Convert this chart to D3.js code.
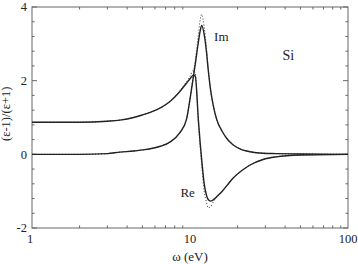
<!DOCTYPE html>
<html>
<head>
<meta charset="utf-8">
<script src="https://cdn.jsdelivr.net/npm/d3@7"></script>
<style>
html,body{margin:0;padding:0;background:#fff;}
svg{display:block;}
text{font-family:"Liberation Serif","Times New Roman",serif;fill:#222;}
</style>
</head>
<body>
<script>
// energies (eV)
const omega = [1, 2, 3, 3.6, 4.4, 5.0, 5.6, 6.5, 7.5, 8.6, 9.5, 10.0, 10.5, 10.8, 11.3, 11.6, 11.86, 12.3, 12.7, 13.0, 13.5, 14.0, 14.75, 16, 17.1, 18.7, 20.7, 22.8, 24, 29, 35, 50, 100];
// Re[(ε-1)/(ε+1)], solid
const reSolid = [0.87, 0.87, 0.9, 0.93, 1.0, 1.07, 1.14, 1.26, 1.44, 1.7, 1.93, 2.05, 2.15, 2.12, 0.93, 0.3, -0.15, -0.8, -1.1, -1.22, -1.27, -1.24, -1.15, -1.0, -0.85, -0.65, -0.48, -0.35, -0.29, -0.14, -0.07, -0.02, 0];
// Im[(ε-1)/(ε+1)], solid
const imSolid = [0.0, 0.0, 0.02, 0.06, 0.09, 0.12, 0.15, 0.22, 0.34, 0.58, 0.95, 1.5, 2.1, 2.45, 3.05, 3.35, 3.5, 3.25, 2.8, 2.35, 1.75, 1.35, 0.95, 0.62, 0.43, 0.26, 0.15, 0.09, 0.07, 0.03, 0.02, 0.01, 0];
// dotted model
const reDotted = [0.87, 0.87, 0.9, 0.93, 1.0, 1.07, 1.14, 1.26, 1.44, 1.72, 1.97, 2.12, 2.28, 2.2, 0.85, 0.2, -0.3, -1.0, -1.3, -1.45, -1.42, -1.3, -1.17, -1.0, -0.85, -0.65, -0.48, -0.35, -0.29, -0.14, -0.07, -0.02, 0];
const imDotted = [0.0, 0.0, 0.02, 0.06, 0.09, 0.12, 0.15, 0.22, 0.34, 0.58, 0.95, 1.5, 2.15, 2.55, 3.25, 3.65, 3.8, 3.45, 2.9, 2.4, 1.75, 1.35, 0.95, 0.62, 0.43, 0.26, 0.15, 0.09, 0.07, 0.03, 0.02, 0.01, 0];

const xTicks = [1, 10, 100];
const xTickLabels = ["1", "10", "100"];
const yTicks = [-2, 0, 2, 4];
const yTickLabels = ["-2", "0", "2", "4"];
const labels = [{t: "Im", w: 14.2, v: 3.2}, {t: "Re", w: 8.7, v: -1.04}, {t: "Si", w: 38.5, v: 2.7}];

const W = 358, H = 264;
const m = {l: 32, r: 10, t: 7, b: 36};
const svg = d3.select("body").append("svg").attr("width", W).attr("height", H);

const x = d3.scaleLog().domain([1, 100]).range([m.l, W - m.r]);
const y = d3.scaleLinear().domain([-2, 4]).range([H - m.b, m.t]);

const axisColor = "#666";
// frame
svg.append("rect").attr("x", x(1)).attr("y", y(4)).attr("width", x(100) - x(1)).attr("height", y(-2) - y(4))
  .attr("fill", "none").attr("stroke", axisColor).attr("stroke-width", 1);

// minor ticks
const xMinor = [];
for (let d of [1, 10]) for (let k = 2; k <= 9; k++) xMinor.push(d * k);
const yMinor = d3.range(-2, 4.001, 0.4).filter(v => !yTicks.some(t => Math.abs(t - v) < 1e-6));

const tg = svg.append("g").attr("stroke", axisColor).attr("stroke-width", 1);
xMinor.forEach(v => {
  tg.append("line").attr("x1", x(v)).attr("x2", x(v)).attr("y1", y(-2)).attr("y2", y(-2) - 2.5);
  tg.append("line").attr("x1", x(v)).attr("x2", x(v)).attr("y1", y(4)).attr("y2", y(4) + 2.5);
});
yMinor.forEach(v => {
  tg.append("line").attr("x1", x(1)).attr("x2", x(1) + 2.5).attr("y1", y(v)).attr("y2", y(v));
  tg.append("line").attr("x1", x(100)).attr("x2", x(100) - 2.5).attr("y1", y(v)).attr("y2", y(v));
});
yTicks.forEach(v => {
  tg.append("line").attr("x1", x(1)).attr("x2", x(1) + 5).attr("y1", y(v)).attr("y2", y(v));
  tg.append("line").attr("x1", x(100)).attr("x2", x(100) - 5).attr("y1", y(v)).attr("y2", y(v));
});

// tick labels
yTicks.forEach((v, i) => {
  svg.append("text").attr("x", x(1) - 5).attr("y", y(v)).attr("dy", "0.35em")
    .attr("text-anchor", "end").attr("font-size", 12.5).text(yTickLabels[i]);
});
xTicks.forEach((v, i) => {
  svg.append("text").attr("x", x(v) - (i === 0 ? 2 : 0)).attr("y", y(-2) + 15)
    .attr("text-anchor", "middle").attr("font-size", 12.5).text(xTickLabels[i]);
});

// axis titles
svg.append("text").attr("x", x(10)).attr("y", 261).attr("text-anchor", "middle").attr("font-size", 13).text("ω (eV)");
svg.append("text").attr("transform", `translate(10,${y(1.1)}) rotate(-90)`).attr("text-anchor", "middle")
  .attr("font-size", 12.5).text("(ε-1)/(ε+1)");

// curves
const line = arr => d3.line().x((d, i) => x(omega[i])).y(d => y(d)).curve(d3.curveMonotoneX)(arr);
[reDotted, imDotted].forEach(arr => {
  svg.append("path").attr("d", line(arr)).attr("fill", "none").attr("stroke", "#333")
    .attr("stroke-width", 1).attr("stroke-dasharray", "1,2");
});
[reSolid, imSolid].forEach(arr => {
  svg.append("path").attr("d", line(arr)).attr("fill", "none").attr("stroke", "#222")
    .attr("stroke-width", 1.4);
});

// annotations
labels.forEach(l => {
  svg.append("text").attr("x", x(l.w)).attr("y", y(l.v)).attr("dy", "0.35em")
    .attr("text-anchor", "start").attr("font-size", l.t === "Si" ? 14 : 13).text(l.t);
});
</script>
</body>
</html>
